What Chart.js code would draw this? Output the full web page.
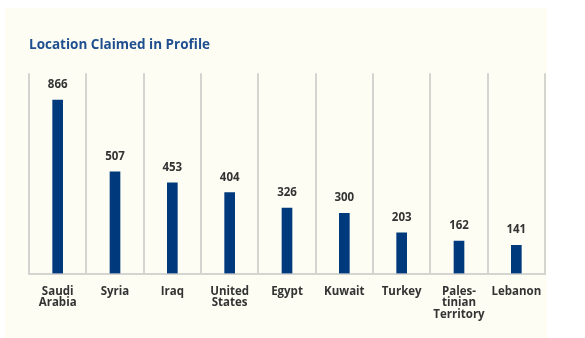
<!DOCTYPE html>
<html>
<head>
<meta charset="utf-8">
<script src="https://cdn.jsdelivr.net/npm/chart.js@4.4.1/dist/chart.umd.min.js"></script>
<style>
  html, body { margin: 0; padding: 0; background: #ffffff; }
  #paper { position: absolute; left: 5px; top: 8px; width: 542px; height: 330px; background: #fdfdf4; }
  #wrap { position: absolute; left: 0; top: 0; width: 585px; height: 338px; }
</style>
</head>
<body>
<div id="paper"></div>
<div id="wrap"><canvas id="locChart" width="585" height="338"></canvas></div>
<script>
// values
var categories = [
  ['Saudi', 'Arabia'],
  ['Syria'],
  ['Iraq'],
  ['United', 'States'],
  ['Egypt'],
  ['Kuwait'],
  ['Turkey'],
  ['Pales-', 'tinian', 'Territory'],
  ['Lebanon']
];
var counts = [866, 507, 453, 404, 326, 300, 203, 162, 141];
var titleText = 'Location Claimed in Profile';

// draws the number above every bar
var valueLabels = {
  id: 'valueLabels',
  afterDatasetsDraw: function (chart) {
    var ctx = chart.ctx;
    var meta = chart.getDatasetMeta(0);
    ctx.save();
    ctx.font = 'bold 11.5px "Open Sans", sans-serif';
    ctx.fillStyle = '#333333';
    ctx.textAlign = 'center';
    ctx.textBaseline = 'alphabetic';
    meta.data.forEach(function (bar, i) {
      ctx.fillText(String(counts[i]), bar.x, bar.y - 12);
    });
    ctx.restore();
  }
};

new Chart(document.getElementById('locChart'), {
  type: 'bar',
  data: {
    labels: categories,
    datasets: [{
      data: counts,
      backgroundColor: '#003a7d',
      barThickness: 10
    }]
  },
  options: {
    responsive: false,
    animation: false,
    layout: { padding: { left: 29, right: 40, top: 37, bottom: 6 } },
    plugins: {
      legend: { display: false },
      tooltip: { enabled: false },
      title: {
        display: true,
        text: titleText,
        align: 'start',
        color: '#1f4f8e',
        font: { family: '"Open Sans", sans-serif', size: 13.5, weight: 'bold', lineHeight: 1.2 },
        padding: { top: 0, bottom: 20 }
      }
    },
    scales: {
      x: {
        grid: { color: '#d4d4d0', lineWidth: 2, drawTicks: false, offset: true },
        border: { color: '#d4d4d0', width: 2 },
        ticks: {
          color: '#333333',
          padding: 12,
          maxRotation: 0,
          autoSkip: false,
          font: { family: '"Open Sans", sans-serif', size: 11.5, weight: 'bold', lineHeight: 1.0 }
        }
      },
      y: {
        display: false,
        min: 0,
        max: 1000
      }
    }
  },
  plugins: [valueLabels]
});
</script>
</body>
</html>
